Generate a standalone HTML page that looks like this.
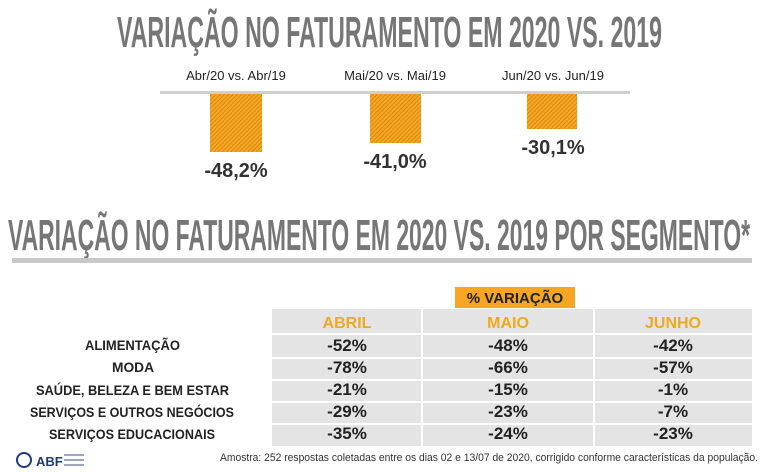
<!DOCTYPE html>
<html><head><meta charset="utf-8"><style>html,body{margin:0;padding:0;background:#fff}svg{display:block}</style></head><body>
<svg width="768" height="472" viewBox="0 0 768 472" xmlns="http://www.w3.org/2000/svg" font-family="Liberation Sans, sans-serif">
<defs>
<pattern id="h" width="3" height="3" patternUnits="userSpaceOnUse" patternTransform="rotate(45)">
<rect width="3" height="3" fill="#f6a623"/><rect width="1" height="3" fill="#d98a10"/>
</pattern>
</defs>
<rect width="768" height="472" fill="#fff"/>
<text x="117" y="47" font-size="44" font-weight="bold" fill="#767676" textLength="545" lengthAdjust="spacingAndGlyphs">VARIAÇÃO NO FATURAMENTO EM 2020 VS. 2019</text>
<g font-size="13" fill="#222" text-anchor="middle">
<text x="236" y="80">Abr/20 vs. Abr/19</text>
<text x="395" y="80">Mai/20 vs. Mai/19</text>
<text x="553" y="80">Jun/20 vs. Jun/19</text>
</g>
<rect x="160" y="91" width="470" height="3" fill="#cfcfcf"/>
<rect x="210" y="94" width="52" height="58" fill="url(#h)"/>
<rect x="370" y="94" width="51" height="49" fill="url(#h)"/>
<rect x="527" y="94" width="50" height="35" fill="url(#h)"/>
<g font-size="20" font-weight="bold" fill="#333" text-anchor="middle">
<text x="236" y="177">-48,2%</text>
<text x="395" y="168">-41,0%</text>
<text x="553" y="154">-30,1%</text>
</g>
<text x="8" y="250" font-size="44" font-weight="bold" fill="#767676" textLength="742" lengthAdjust="spacingAndGlyphs">VARIAÇÃO NO FATURAMENTO EM 2020 VS. 2019 POR SEGMENTO*</text>
<rect x="12" y="258" width="740" height="5" fill="#c8c8c8"/>
<rect x="455" y="287" width="120" height="21" fill="#f6a623"/>
<text x="515" y="303" font-size="15" font-weight="bold" fill="#222" text-anchor="middle">% VARIAÇÃO</text>
<rect x="272" y="309" width="480" height="137" fill="#e4e4e4"/>
<g fill="#fff">
<rect x="272" y="333" width="480" height="2"/>
<rect x="272" y="357" width="480" height="2"/>
<rect x="272" y="379" width="480" height="2"/>
<rect x="272" y="401" width="480" height="2"/>
<rect x="272" y="423" width="480" height="2"/>
<rect x="421" y="309" width="2" height="137"/>
<rect x="593" y="309" width="2" height="137"/>
</g>
<g font-size="16" font-weight="bold" fill="#f0a81e" text-anchor="middle">
<text x="347" y="328">ABRIL</text><text x="508" y="328">MAIO</text><text x="673" y="328">JUNHO</text>
</g>
<g font-size="14" font-weight="bold" fill="#222">
<text x="85" y="350" textLength="95" lengthAdjust="spacingAndGlyphs">ALIMENTAÇÃO</text>
<text x="112" y="372" textLength="42" lengthAdjust="spacingAndGlyphs">MODA</text>
<text x="36" y="395" textLength="193" lengthAdjust="spacingAndGlyphs">SAÚDE, BELEZA E BEM ESTAR</text>
<text x="30" y="417" textLength="204" lengthAdjust="spacingAndGlyphs">SERVIÇOS E OUTROS NEGÓCIOS</text>
<text x="49" y="439" textLength="166" lengthAdjust="spacingAndGlyphs">SERVIÇOS EDUCACIONAIS</text>
</g>
<g font-size="17" font-weight="bold" fill="#222" text-anchor="middle">
<text x="347" y="351">-52%</text><text x="508" y="351">-48%</text><text x="673" y="351">-42%</text>
<text x="347" y="373">-78%</text><text x="508" y="373">-66%</text><text x="673" y="373">-57%</text>
<text x="347" y="395">-21%</text><text x="508" y="395">-15%</text><text x="673" y="395">-1%</text>
<text x="347" y="417">-29%</text><text x="508" y="417">-23%</text><text x="673" y="417">-7%</text>
<text x="347" y="439">-35%</text><text x="508" y="439">-24%</text><text x="673" y="439">-23%</text>
</g>
<text x="220" y="461" font-size="11" fill="#333" textLength="538" lengthAdjust="spacingAndGlyphs">Amostra: 252 respostas coletadas entre os dias 02 e 13/07 de 2020, corrigido conforme características da população.</text>
<circle cx="24" cy="460" r="7" fill="none" stroke="#1e3a78" stroke-width="2"/>
<text x="36" y="466" font-size="13" font-weight="bold" fill="#1e3a78">ABF</text>
<g fill="#9aa6c0"><rect x="64" y="454" width="20" height="2"/><rect x="64" y="459" width="20" height="2"/><rect x="64" y="464" width="20" height="2"/></g>
</svg>
</body></html>
